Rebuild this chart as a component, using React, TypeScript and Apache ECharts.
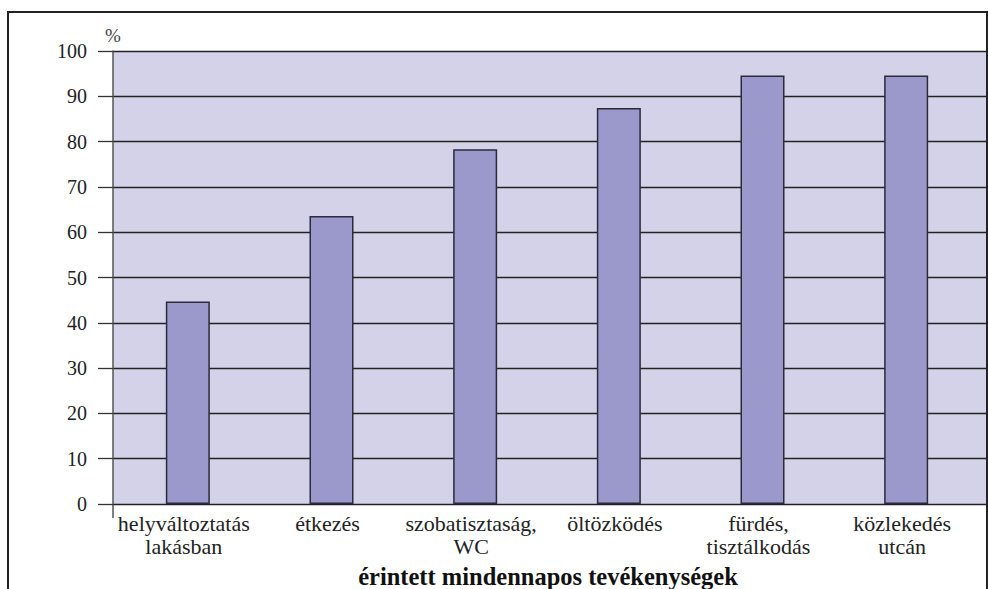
import React, { useEffect, useRef } from "react";
import * as echarts from "echarts";

// Everyday activities affected
const categories = [
  "helyváltoztatás\nlakásban",
  "étkezés",
  "szobatisztaság,\nWC",
  "öltözködés",
  "fürdés,\ntisztálkodás",
  "közlekedés\nutcán",
];
const shares = [44.7, 63.6, 78.3, 87.4, 94.6, 94.6];
const yMin = 0;
const yMax = 100;
const yStep = 10;
const unitLabel = "%";
const axisTitle = "érintett mindennapos tevékenységek";

const FONT = "Liberation Serif";

export default function App() {
  const ref = useRef<HTMLDivElement>(null);

  useEffect(() => {
    if (!ref.current) return;
    const chart = echarts.init(ref.current, null, { renderer: "svg" });
    chart.setOption({
      animation: false,
      backgroundColor: "#ffffff",
      textStyle: { fontFamily: FONT },
      grid: [
        {
          left: 113,
          top: 51,
          width: 874,
          height: 453,
          show: true,
          backgroundColor: "#d4d2e8",
          borderWidth: 0,
        },
        { left: 116, top: 51, width: 862, height: 453 },
      ],
      xAxis: [
        { gridIndex: 0, type: "value", min: 0, max: 1, show: false },
        {
          gridIndex: 1,
          type: "category",
          data: categories,
          axisLine: { show: false },
          axisTick: { show: false },
          axisLabel: {
            margin: 8,
            interval: 0,
            fontFamily: FONT,
            fontSize: 22,
            lineHeight: 23,
            color: "#222",
            padding: [0, 8, 0, 0],
          },
        },
      ],
      yAxis: [
        {
          gridIndex: 0,
          type: "value",
          min: yMin,
          max: yMax,
          interval: yStep,
          axisLine: { show: true, lineStyle: { color: "#555", width: 1.5 } },
          axisTick: { show: true, length: 15, lineStyle: { color: "#333", width: 1.3 } },
          axisLabel: { margin: 26, fontFamily: FONT, fontSize: 20, color: "#222" },
          splitLine: { show: true, lineStyle: { color: "#222", width: 1.3 } },
        },
        { gridIndex: 1, type: "value", min: yMin, max: yMax, interval: yStep, show: false },
      ],
      series: [
        {
          type: "bar",
          xAxisIndex: 1,
          yAxisIndex: 1,
          data: shares,
          barWidth: 44,
          itemStyle: { color: "#9b99cb", borderColor: "#2b2a38", borderWidth: 1.5 },
        },
      ],
      graphic: [
        {
          type: "polyline",
          shape: { points: [[8, 600], [8, 12], [987, 12], [987, 600]] },
          style: { stroke: "#222", lineWidth: 2, fill: "none" },
          z: 10,
        },
        {
          type: "line",
          shape: { x1: 113, y1: 504, x2: 113, y2: 518 },
          style: { stroke: "#555", lineWidth: 1.5 },
        },
        {
          type: "text",
          x: 105,
          y: 26,
          style: { text: unitLabel, fontFamily: FONT, fontSize: 19, fill: "#444" },
        },
        {
          type: "text",
          x: 548,
          y: 576,
          style: {
            text: axisTitle,
            fontFamily: FONT,
            fontSize: 24.5,
            fontWeight: "bold",
            fill: "#111",
            textAlign: "center",
            textVerticalAlign: "middle",
          },
        },
      ],
    });
    return () => chart.dispose();
  }, []);

  return (
    <div
      ref={ref}
      style={{ position: "fixed", left: 0, top: 0, width: 988, height: 589 }}
    />
  );
}
